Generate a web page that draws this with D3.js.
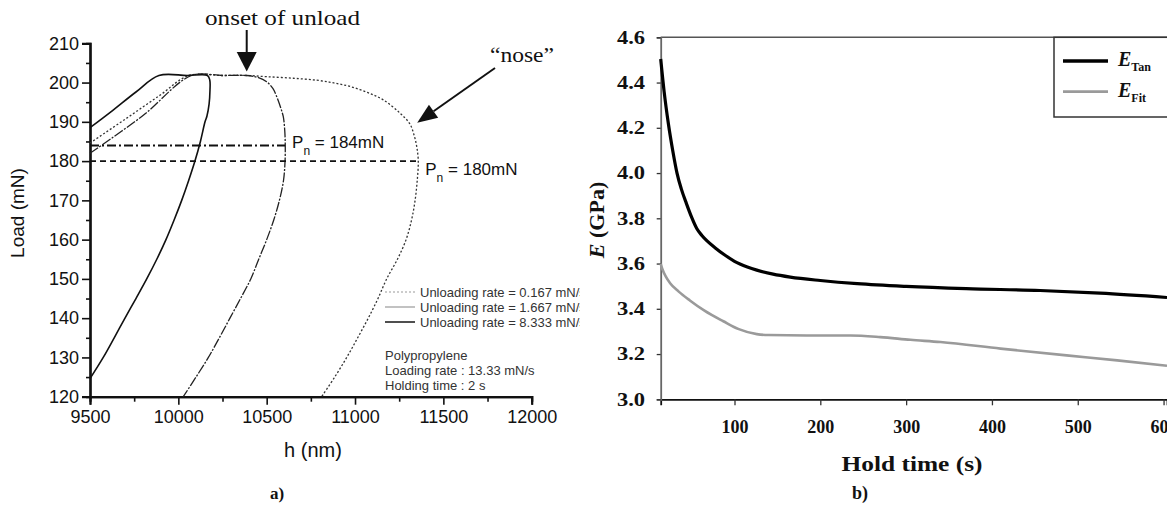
<!DOCTYPE html>
<html><head><meta charset="utf-8">
<script src="https://cdn.jsdelivr.net/npm/d3@7"></script>
<style>body{margin:0;background:#fff}svg{display:block}</style>
</head><body><svg id="c" width="1167" height="506"></svg>
<script>
// ---------- Panel a) data ----------
const hTicks = [9500, 10000, 10500, 11000, 11500, 12000];
const hMinor = [9750, 10250, 10750, 11250, 11750];
const loadTicks = [120, 130, 140, 150, 160, 170, 180, 190, 200, 210];
const loadMinor = [125, 135, 145, 155, 165, 175, 185, 195, 205];
const rate0167 = [[9500,184.6],[9700,190.7],[9900,196.9],[10060,201.8],[10250,201.8],[10387,201.8],[10500,201.5],[10650,201.1],[10783,200.6],[10880,199.9],[10972,199.0],[11070,197.5],[11160,195.6],[11255,192.2],[11310,189.5],[11335,186.5],[11350,183.5],[11358,180],[11352,175],[11340,170],[11320,165],[11289,160],[11240,155],[11179,150],[11130,145],[11075,140],[11015,135],[10953,130],[10885,125],[10811,120]];
const rate1667 = [[9500,182.0],[9800,191.6],[10075,201.8],[10250,201.8],[10387,201.8],[10450,201.3],[10500,200.2],[10535,198.5],[10557,196.4],[10580,193.5],[10594,191.3],[10602,188],[10605,184.5],[10604,180],[10595,175],[10572,170],[10540,165],[10500,160],[10455,155],[10410,150],[10352,145],[10292,140],[10232,135],[10170,130],[10100,125],[10028,120]];
const rate8333 = [[9500,188.5],[9620,192.6],[9760,197.6],[9890,201.8],[10050,201.8],[10165,201.8],[10178,200.6],[10179,198],[10174,194.5],[10162,191.5],[10151,190],[10125,185],[10094,180],[10058,175],[10019,170],[9976,165],[9930,160],[9878,155],[9821,150],[9760,145],[9698,140],[9637,135],[9575,130],[9500,124.6]];
const pn184 = [[9500,184],[10604,184]];
const pn180 = [[9500,180],[11358,180]];
const legendA = ["Unloading rate = 0.167 mN/s", "Unloading rate = 1.667 mN/s", "Unloading rate = 8.333 mN/s"];
const notesA = ["Polypropylene", "Loading rate : 13.33 mN/s", "Holding time : 2 s"];

// ---------- Panel b) data ----------
const tTicks = [100, 200, 300, 400, 500, 600];
const eTicks = [3.0, 3.2, 3.4, 3.6, 3.8, 4.0, 4.2, 4.4, 4.6];
const tanTime = [14, 18, 23, 28, 33, 38, 44, 50, 56, 62, 68, 78, 87, 100, 115, 126, 145, 165, 200, 243, 300, 370, 456, 526, 604];
const tanE = [4.504, 4.36, 4.217, 4.10, 4.0, 3.93, 3.865, 3.805, 3.755, 3.724, 3.700, 3.668, 3.642, 3.61, 3.585, 3.571, 3.553, 3.540, 3.525, 3.511, 3.499, 3.489, 3.481, 3.469, 3.450];
const fitTime = [14, 16, 20, 25, 35, 48, 65, 87, 105, 126, 140, 184, 235, 270, 305, 340, 410, 487, 546, 604];
const fitE = [3.599, 3.575, 3.542, 3.513, 3.476, 3.437, 3.392, 3.345, 3.31, 3.288, 3.284, 3.282, 3.282, 3.275, 3.263, 3.253, 3.224, 3.194, 3.172, 3.148];
const legendB = [["E", "Tan"], ["E", "Fit"]];

const svg = d3.select("#c");
const defs = svg.append("defs");
defs.append("clipPath").attr("id","clipA").append("rect").attr("x",0).attr("y",0).attr("width",580).attr("height",506);
defs.append("clipPath").attr("id","clipB").append("rect").attr("x",580).attr("y",0).attr("width",587).attr("height",506);

// ================= Panel a =================
const A = svg.append("g").attr("clip-path","url(#clipA)").style("font-family","'Liberation Sans', Arial, sans-serif");
const xA = d3.scaleLinear().domain([9500, 12000]).range([90, 531.7]);
const yA = d3.scaleLinear().domain([120, 210]).range([396.7, 43.3]);
const lineA = d3.line().x(d => xA(d[0])).y(d => yA(d[1])).curve(d3.curveCatmullRom.alpha(0.5));
const lineStraight = d3.line().x(d => xA(d[0])).y(d => yA(d[1]));

// axes
A.append("g").attr("transform","translate(90,0)")
  .call(d3.axisLeft(yA).tickValues(loadTicks).tickSize(8).tickPadding(3).tickFormat(d3.format("d")));
A.append("g").attr("transform","translate(90,0)")
  .call(d3.axisLeft(yA).tickValues(loadMinor).tickSize(4).tickFormat(""));
A.append("g").attr("transform","translate(0,396.7)")
  .call(d3.axisBottom(xA).tickValues(hTicks).tickSize(8).tickPadding(6).tickFormat(d3.format("d")));
A.append("g").attr("transform","translate(0,396.7)")
  .call(d3.axisBottom(xA).tickValues(hMinor).tickSize(5).tickFormat(""));
A.selectAll(".domain").attr("stroke","#111").attr("stroke-width",2.2);
A.selectAll(".tick line").attr("stroke","#111").attr("stroke-width",1.6);
A.selectAll(".tick text").attr("font-size",18).attr("fill","#111").style("font-family","'Liberation Sans', Arial, sans-serif");

// curves
A.append("path").attr("d", lineA(rate0167)).attr("fill","none").attr("stroke","#333").attr("stroke-width",1.3).attr("stroke-dasharray","2,2");
A.append("path").attr("d", lineA(rate1667)).attr("fill","none").attr("stroke","#222").attr("stroke-width",1.3).attr("stroke-dasharray","10,1.5,2,1.5");
A.append("path").attr("d", lineA(rate8333)).attr("fill","none").attr("stroke","#111").attr("stroke-width",1.6);
A.append("path").attr("d", lineStraight(pn184)).attr("fill","none").attr("stroke","#111").attr("stroke-width",2).attr("stroke-dasharray","9,3,2,3");
A.append("path").attr("d", lineStraight(pn180)).attr("fill","none").attr("stroke","#111").attr("stroke-width",1.8).attr("stroke-dasharray","6,4");

// Pn labels
function pnLabel(x, y, val) {
  const t = A.append("text").attr("x", x).attr("y", y).attr("font-size",17).attr("fill","#111");
  t.append("tspan").text("P");
  t.append("tspan").attr("font-size",12).attr("dy",7).text("n");
  t.append("tspan").attr("dy",-7).text(" = " + val);
}
pnLabel(xA(10604) + 7, yA(184) + 3, "184mN");
pnLabel(xA(11358) + 7, yA(180) + 14, "180mN");

// axis titles
A.append("text").attr("x", 313).attr("y", 457).attr("text-anchor","middle").attr("font-size",20).attr("fill","#111").text("h (nm)");
A.append("text").attr("transform","translate(24,213) rotate(-90)").attr("text-anchor","middle").attr("font-size",19).attr("fill","#111").text("Load (mN)");

// annotations
const serif = "'Liberation Serif', 'Times New Roman', serif";
A.append("text").attr("x", 205).attr("y", 25).attr("font-size",22).attr("textLength",155).attr("lengthAdjust","spacingAndGlyphs")
  .style("font-family", serif).attr("fill","#111").text("onset of unload");
const ox = xA(10387);
A.append("line").attr("x1",ox).attr("x2",ox).attr("y1",30).attr("y2",55).attr("stroke","#111").attr("stroke-width",2);
A.append("path").attr("d",`M${ox-10},52 L${ox+10},52 L${ox},${yA(201.8)-4} Z`).attr("fill","#111");

A.append("text").attr("x", 490).attr("y", 62).attr("font-size",22).attr("textLength",64).attr("lengthAdjust","spacingAndGlyphs")
  .style("font-family", serif).attr("fill","#111").text("\u201Cnose\u201D");
{
  const tx = xA(11335) + 3, ty = yA(189) - 3;
  const sx = 495, sy = 68;
  const ang = Math.atan2(ty - sy, tx - sx);
  const L = 20, W = 8;
  const bx = tx - L*Math.cos(ang), by = ty - L*Math.sin(ang);
  A.append("line").attr("x1",sx).attr("y1",sy).attr("x2",bx).attr("y2",by).attr("stroke","#111").attr("stroke-width",2);
  A.append("path").attr("d",`M${tx},${ty} L${bx + W*Math.sin(ang)},${by - W*Math.cos(ang)} L${bx - W*Math.sin(ang)},${by + W*Math.cos(ang)} Z`).attr("fill","#111");
}

// legend a
const legDash = ["2,2", "", ""];
const legCol = ["#999", "#999", "#222"];
const legW = [1.2, 1.2, 1.6];
legendA.forEach((s, i) => {
  const y = 292 + i * 15;
  A.append("line").attr("x1",385).attr("x2",415).attr("y1",y).attr("y2",y).attr("stroke",legCol[i]).attr("stroke-width",legW[i]).attr("stroke-dasharray",legDash[i]);
  A.append("text").attr("x",420).attr("y",y).attr("dy","0.35em").attr("font-size",13).attr("fill","#333").text(s);
});
notesA.forEach((s, i) => {
  A.append("text").attr("x",385).attr("y",355 + i * 15).attr("dy","0.35em").attr("font-size",13).attr("fill","#333").text(s);
});
A.append("text").attr("x",277).attr("y",499).attr("text-anchor","middle").attr("font-size",17).attr("font-weight","bold").style("font-family",serif).attr("fill","#111").text("a)");

// ================= Panel b =================
const B = svg.append("g").attr("clip-path","url(#clipB)").style("font-family", serif);
const xB = d3.scaleLinear().domain([14, 604]).range([660.7, 1167]);
const yB = d3.scaleLinear().domain([3.0, 4.6]).range([399.3, 37.3]);
const lineB = d3.line().x(d => xB(d[0])).y(d => yB(d[1])).curve(d3.curveMonotoneX);

// top border
B.append("line").attr("x1",660.7).attr("x2",1167).attr("y1",yB(4.6)).attr("y2",yB(4.6)).attr("stroke","#555").attr("stroke-width",1.6);

const bx = B.append("g").attr("transform",`translate(0,${yB(3.0)})`)
  .call(d3.axisBottom(xB).tickValues(tTicks).tickSize(6).tickPadding(15).tickFormat(d3.format("d")));
bx.select(".domain").attr("stroke","#111").attr("stroke-width",1.8);
bx.selectAll(".tick line").attr("stroke","#333").attr("stroke-width",1.3);
bx.selectAll(".tick text").attr("font-size",18).attr("font-weight","bold").attr("fill","#111").style("font-family",serif);

const by = B.append("g").attr("transform","translate(660.7,0)")
  .call(d3.axisLeft(yB).tickValues(eTicks).tickSize(4).tickPadding(12).tickFormat(d3.format(".1f")));
by.select(".domain").attr("stroke","#666").attr("stroke-width",1.8);
by.selectAll(".tick line").attr("stroke","#333").attr("stroke-width",1.3);
by.selectAll(".tick text").attr("font-size",18).attr("font-weight","bold").attr("fill","#111").style("font-family",serif)
  .attr("x",-12.5).attr("transform","scale(1.25,1)");

// lines
const tanData = tanTime.map((t, i) => [t, tanE[i]]);
const fitData = fitTime.map((t, i) => [t, fitE[i]]);
B.append("path").attr("d", lineB(fitData)).attr("fill","none").attr("stroke","#9a9a9a").attr("stroke-width",2.6);
B.append("path").attr("d", lineB(tanData)).attr("fill","none").attr("stroke","#000").attr("stroke-width",3.2);

// axis titles
B.append("text").attr("x",912).attr("y",471).attr("text-anchor","middle").attr("font-size",22).attr("font-weight","bold")
  .attr("textLength",141).attr("lengthAdjust","spacingAndGlyphs").attr("fill","#111").text("Hold time (s)");
const yt = B.append("text").attr("transform","translate(604,220) rotate(-90)").attr("text-anchor","middle").attr("font-size",22).attr("font-weight","bold").attr("fill","#111");
yt.append("tspan").attr("font-style","italic").text("E");
yt.append("tspan").text(" (GPa)");
B.append("text").attr("x",860).attr("y",499).attr("text-anchor","middle").attr("font-size",18).attr("font-weight","bold").attr("fill","#111").text("b)");

// legend b
B.append("rect").attr("x",1054).attr("y",yB(4.6)).attr("width",140).attr("height",117 - yB(4.6)).attr("fill","#fff").attr("stroke","#333").attr("stroke-width",1.5);
const legColB = ["#000", "#9a9a9a"];
legendB.forEach((d, i) => {
  const y = 61 + i * 30.7;
  B.append("line").attr("x1",1063).attr("x2",1108).attr("y1",y).attr("y2",y).attr("stroke",legColB[i]).attr("stroke-width",i ? 2.8 : 3.4);
  const t = B.append("text").attr("x",1118).attr("y",y + 5).attr("font-size",20).attr("fill","#111");
  t.append("tspan").attr("font-style","italic").attr("font-weight","bold").text(d[0]);
  t.append("tspan").attr("font-size",12).attr("font-weight","bold").attr("dy",5).text(d[1]);
});
</script></body></html>
